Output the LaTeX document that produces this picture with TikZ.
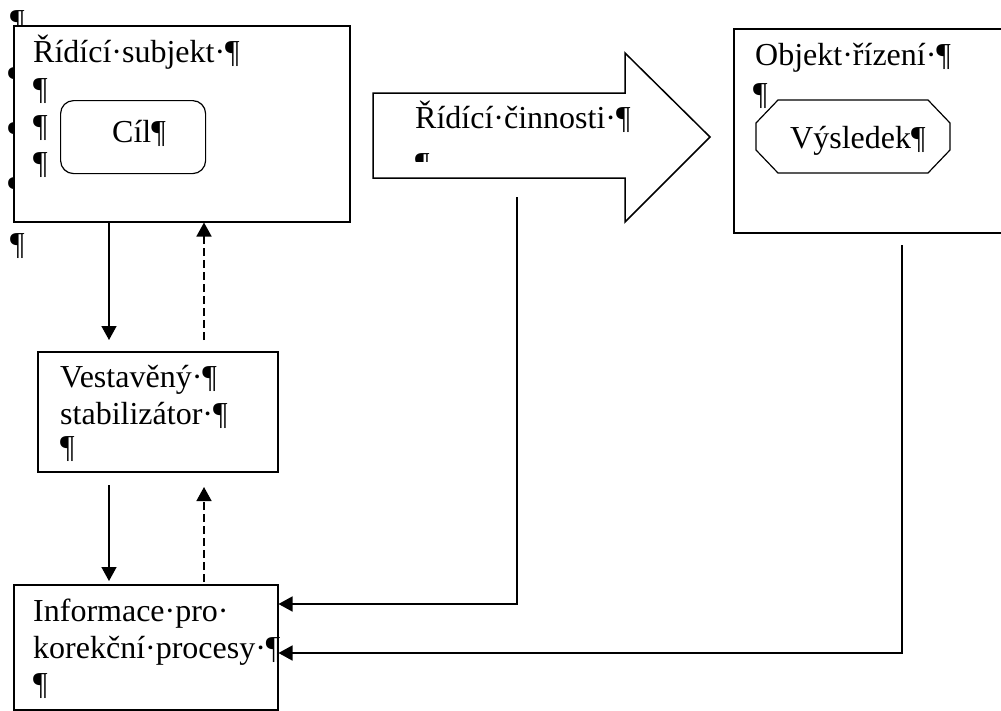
\documentclass[tikz,border=0pt]{standalone}
\usepackage{fontspec}
\setmainfont{Liberation Serif}
\usetikzlibrary{arrows.meta}

\tikzset{
  box/.style={draw, line width=1.5pt, fill=white, inner sep=0pt, anchor=north west},
  txt/.style={anchor=base west, inner sep=0pt, font=\fontsize{32}{37}\selectfont},
  arr/.style={-{Triangle[length=14pt,width=15pt]}, line width=1.5pt},
  darr/.style={arr, dash pattern=on 8pt off 4pt}
}

\begin{document}
\begin{tikzpicture}[x=1pt,y=-1pt]
\useasboundingbox (0,0) rectangle (1001,710);

% marks partly hidden by the left box
\node[txt] (p0) at (10,31) {¶};
\node[txt] (p1) at (8,88) {¶};
\node[txt] (p2) at (8,143) {¶};
\node[txt] (p3) at (8,198) {¶};

\node[box, minimum width=336pt, minimum height=196pt] (subjekt) at (13,25) {};
\node[txt] (t1) at (33,62) {Řídící·subjekt·¶};
\node[txt] (t2) at (33,99) {¶};
\node[txt] (t3) at (33,136) {¶};
\node[txt] (t4) at (33,173) {¶};
\node[box, rounded corners=13pt, line width=1.2pt, minimum width=145pt, minimum height=73pt] (cil) at (60,100) {};
\node[txt] (tcil) at (112,142) {Cíl¶};
\node[txt] (p4) at (10,254) {¶};

\node[box, minimum width=240pt, minimum height=120pt] (stab) at (37,351) {};
\node[txt] (s1) at (60,387) {Vestavěný·¶};
\node[txt] (s2) at (60,424) {stabilizátor·¶};
\node[txt] (s3) at (60,457) {¶};

\node[box, minimum width=264pt, minimum height=125pt] (info) at (13,584) {};
\node[txt] (i1) at (33,621) {Informace·pro·};
\node[txt] (i2) at (33,658) {korekční·procesy·¶};
\node[txt] (i3) at (33,694) {¶};

% big arrow
\draw[line width=1.5pt, fill=white] (373,93) -- (625,93) -- (625,53) -- (710,137)
  -- (625,222) -- (625,178) -- (373,178) -- cycle;
\node[txt] (a1) at (415,128) {Řídící·činnosti·¶};
\begin{scope}
\clip (400,140) rectangle (450,161);
\node[txt] (a2) at (415,174) {¶};
\end{scope}

\node[box, minimum width=320pt, minimum height=204pt] (objekt) at (733,28) {};
\node[txt] (o1) at (755,65) {Objekt·řízení·¶};
\node[txt] (o2) at (753,104) {¶};
% octagon
\draw[line width=1.2pt] (778,100) -- (928,100) -- (950,123) -- (950,150) -- (928,173)
  -- (778,173) -- (756,150) -- (756,123) -- cycle;
\node[txt] (v1) at (790,148) {Výsledek¶};

% connectors
\coordinate (c1) at (109,340);
\coordinate (c2) at (204,340);
\coordinate (c3) at (109,485);
\coordinate (c4) at (204,582);
\coordinate (c4t) at (204,487);
\coordinate (c5) at (517,197);
\coordinate (c6) at (902,245);

\draw[arr] (subjekt.south -| c1) -- (c1);
\draw[darr] (c2) -- (subjekt.south -| c2);
\draw[arr, shorten >=3pt] (c3) -- (info.north -| c3);
\draw[darr] (c4) -- (c4t);
\draw[arr] (c5) |- (info.east |- 0,604);
\draw[arr] (c6) |- (info.east |- 0,653);

\end{tikzpicture}
\end{document}
